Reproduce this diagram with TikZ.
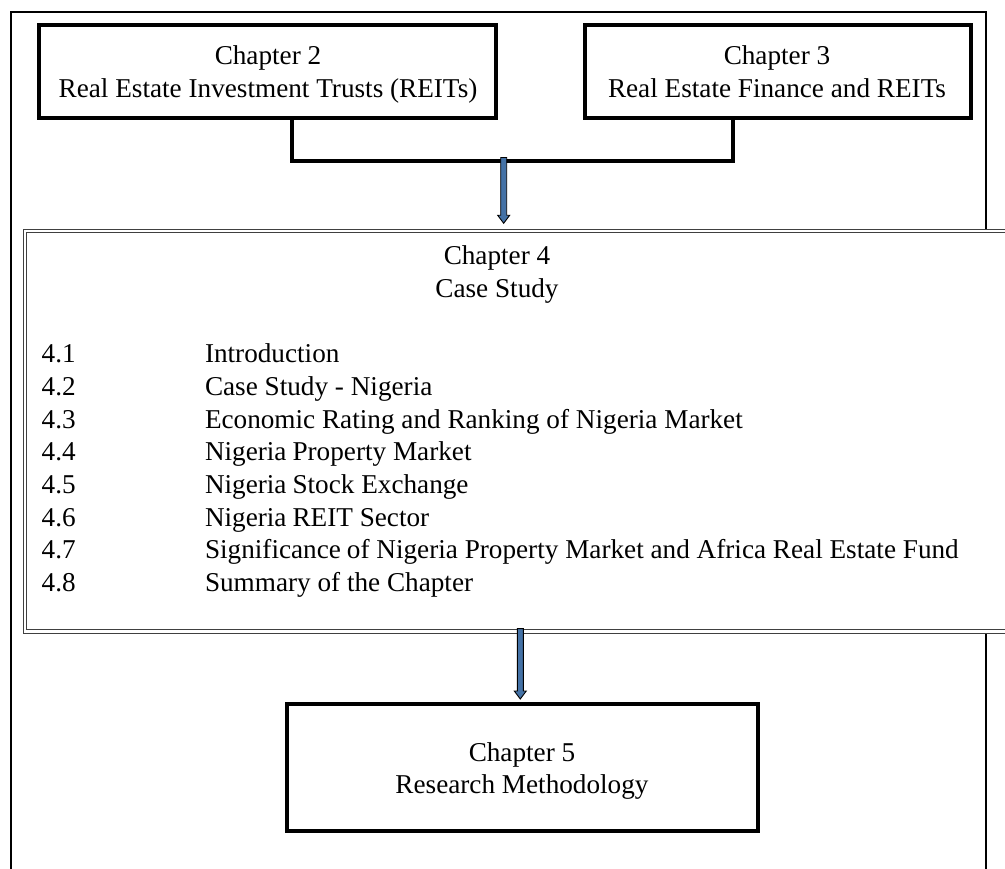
\documentclass[tikz,border=0pt]{standalone}
\usepackage{fontspec}
\setmainfont{Liberation Serif}
\usetikzlibrary{calc}
\definecolor{arrowblue}{RGB}{68,114,166}
\tikzset{
  chapbox/.style={draw=black, line width=4pt, fill=white, rectangle, inner sep=0pt, outer sep=0pt},
  casebox/.style={draw=black!75, line width=1pt, double=white, double distance=2.4pt, fill=white, rectangle, inner sep=0pt, outer sep=0pt},
  frameline/.style={draw=black, line width=2pt},
  joinline/.style={draw=black, line width=3.2pt},
  txt/.style={inner sep=0pt, outer sep=0pt, anchor=base},
  itemtxt/.style={inner sep=0pt, outer sep=0pt, anchor=base west},
  blockarrow/.style={draw=black, line width=0.9pt, fill=arrowblue, line join=miter},
}
% block arrow from #1 (tail) down to #2 (tip)
\newcommand\downblockarrow[2]{%
  \path[blockarrow] ($(#1)+(-3,0)$) -- ($(#2)+(-3,-8)$) -- ($(#2)+(-6,-8)$) -- (#2)
    -- ($(#2)+(6,-8)$) -- ($(#2)+(3,-8)$) -- ($(#1)+(3,0)$) -- cycle;}
\newcommand\gapsp{\hskip 6pt}
\begin{document}
\begin{tikzpicture}[x=1pt, y=-1pt, font=\fontsize{27.2}{33}\selectfont]
\useasboundingbox (0,0) rectangle (1005,869);
\clip (0,0) rectangle (1005,869);
\fill[white] (0,0) rectangle (1005,869);

% outer frame, open at the bottom
\coordinate (fl) at (10.7,880);
\coordinate (fr) at (985.8,880);
\draw[frameline] (fl) |- (985.8,12.2) -- (fr);

% chapter boxes
\node[chapbox, minimum width=457pt, minimum height=93pt] (c2) at (267.5,71.5) {};
\node[chapbox, minimum width=386pt, minimum height=93pt] (c3) at (778,71.5) {};
\node[casebox, minimum width=990pt, minimum height=400.3pt] (c4) at (520,431.45) {};
\node[chapbox, minimum width=471pt, minimum height=127pt] (c5) at (522.5,767.5) {};

% box texts
\node[txt] (c2a) at (268,65) {Chapter 2};
\node[txt] (c2b) at (268,98) {Real Estate Investment Trusts (REITs)};
\node[txt] (c3a) at (777,64.5) {Chapter 3};
\node[txt] (c3b) at (777,97.5) {Real Estate Finance and REITs};
\node[txt] (c4a) at (497,265) {Chapter 4};
\node[txt] (c4b) at (497,297.5) {Case Study};
\node[txt] (c5a) at (522,761) {Chapter 5};
\node[txt] (c5b) at (522,793.5) {Research Methodology};

% section list of chapter 4
\foreach \n/\t [count=\i from 0] in {
  4.1/Introduction,
  4.2/Case Study - Nigeria,
  4.3/Economic Rating and Ranking of Nigeria Market,
  4.4/Nigeria\gapsp Property Market,
  4.5/Nigeria\gapsp Stock Exchange,
  4.6/Nigeria\gapsp REIT Sector,
  4.7/Significance\gapsp of Nigeria Property Market and Africa Real Estate Fund,
  4.8/Summary of the Chapter}{
  \node[itemtxt] (n\i) at (41.7,362.7+32.7*\i) {\n};
  \node[itemtxt] (s\i) at (205,362.7+32.7*\i) {\t};
}

% joining line under chapters 2 and 3
\coordinate (jl) at (292,161);
\coordinate (jr) at (733,161);
\draw[joinline] (c2.south -| jl) -- (jl) -- (jr) -- (c3.south -| jr);

% arrows
\coordinate (a1) at (503.7,157.5);
\coordinate (t1) at ($(a1 |- c4.north)+(0,-8)$);
\downblockarrow{a1}{t1}
\coordinate (a2) at ($(520.3,0 |- c4.south)+(0,-3)$);
\coordinate (t2) at ($(a2 |- c5.north)+(0,-5)$);
\downblockarrow{a2}{t2}
\end{tikzpicture}
\end{document}
